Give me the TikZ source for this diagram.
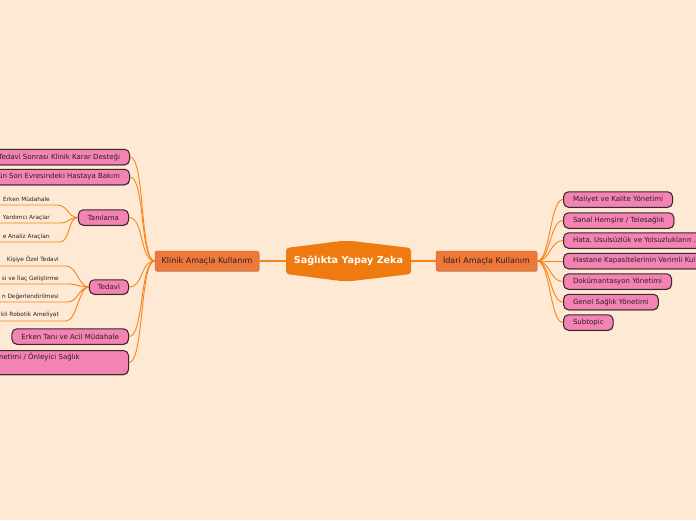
\documentclass[tikz,border=0pt]{standalone}
\usepackage{fontspec}
\setmainfont{DejaVu Sans}
\usetikzlibrary{shadows}
\definecolor{bgc}{RGB}{253,233,212}
\definecolor{connc}{RGB}{248,132,24}
\definecolor{rootc}{RGB}{238,122,16}
\definecolor{branchc}{RGB}{237,120,58}
\definecolor{branchd}{RGB}{214,100,40}
\definecolor{pinkc}{RGB}{242,131,178}
\definecolor{bordc}{RGB}{55,40,45}
\definecolor{textc}{RGB}{45,30,35}
\begin{document}
\begin{tikzpicture}[x=1pt,y=-1pt,
  conn/.style={draw=connc, line width=0.9pt},
  mainconn/.style={draw=connc, line width=1.4pt},
  leaf/.style={fill=pinkc, draw=bordc, line width=1pt, rounded corners=5pt,
    inner xsep=9.5pt, inner ysep=0pt, minimum height=15.5pt,
    font=\fontsize{7}{8.5}\selectfont, text=textc,
    drop shadow={shadow xshift=0.4pt, shadow yshift=-0.8pt, opacity=0.35, fill=black}},
  branch/.style={fill=branchc, draw=branchd, line width=0.4pt, rounded corners=2pt,
    inner sep=0pt, minimum height=20pt,
    font=\fontsize{8}{9}\selectfont, text=textc,
    drop shadow={shadow xshift=0.6pt, shadow yshift=-0.9pt, opacity=0.25, fill=black}},
  sub/.style={font=\fontsize{5.8}{6.5}\selectfont, text=textc, inner sep=0pt},
  rootshape/.style={fill=rootc, rounded corners=3pt}
]
\useasboundingbox (0,0) rectangle (696,520);
\fill[bgc] (0,0) rectangle (696,520);
\clip (0,0) rectangle (696,520);

% central topic
\fill[rootshape] (286,248) -- (341,241) -- (352,241) -- (411,248) -- (411,274)
  -- (352,281) -- (341,281) -- (286,274) -- cycle;
\node[minimum width=125pt, minimum height=40pt, inner sep=0pt, text=white,
  font=\bfseries\fontsize{9.6}{11}\selectfont] (root) at (348.5,261) {Sağlıkta Yapay Zeka};

% main branches
\node[branch, minimum width=104pt] (klinik) at (207,261) {Klinik Amaçla Kullanım};
\node[branch, minimum width=101pt] (idari) at (486.5,261) {İdari Amaçla Kullanım};

\draw[mainconn] (klinik.east) -- (root.west);
\draw[mainconn] (root.east) -- (idari.west);

% right leaves
\node[leaf, anchor=west] (r1) at (563,199.5) {Maliyet ve Kalite Yönetimi};
\node[leaf, anchor=west] (r2) at (563,220.5) {Sanal Hemşire / Telesağlık};
\node[leaf, anchor=west] (r3) at (563,240.5) {Hata, Usulsüzlük ve Yolsuzlukların ...};
\node[leaf, anchor=west] (r4) at (563,261) {Hastane Kapasitelerinin Verimli Kul};
\node[leaf, anchor=west] (r5) at (563,281.5) {Dokümantasyon Yönetimi};
\node[leaf, anchor=west] (r6) at (563,302) {Genel Sağlık Yönetimi};
\node[leaf, anchor=west] (r7) at (563,322.5) {Subtopic};

\foreach \n in {r1,r2,r3,r4,r5,r6,r7}
  \draw[conn] (idari.east) .. controls +(13,0) and +(-13,0) .. (\n.west);

% left leaves
\node[leaf, anchor=east] (l1) at (130,157) {Tedavi Sonrası Klinik Karar Desteği};
\node[leaf, anchor=east] (l2) at (130,177) {ün Son Evresindeki Hastaya Bakım};
\node[leaf, anchor=east] (tan) at (129,217.5) {Tanılama};
\node[leaf, anchor=east, inner xsep=8.5pt, minimum height=14.5pt] (ted) at (129,287) {Tedavi};
\node[leaf, anchor=east] (l5) at (129,336.5) {Erken Tanı ve Acil Müdahale};
\node[leaf, anchor=north east, align=left, text width=120pt, minimum height=24pt,
  text height=5.5pt, text depth=12.5pt, inner ysep=3pt] (l6) at (129,350)
  {netimi / Önleyici Sağlık};

\foreach \n in {l1,l2,tan,ted,l5,l6}
  \draw[conn] (\n.east) .. controls +(15,0) and +(-15,0) .. (klinik.west);

% Tanılama children
\node[sub, anchor=base east] (t1) at (50,201.5) {Erken Müdahale};
\node[sub, anchor=base east] (t2) at (50,219.5) {Yardımcı Araçlar};
\node[sub, anchor=base east] (t3) at (50,238.5) {e Analiz Araçları};
\coordinate (t1a) at (-5,205); \coordinate (t1b) at (57,205);
\coordinate (t2a) at (-5,223); \coordinate (t2b) at (60,223);
\coordinate (t3a) at (-5,242); \coordinate (t3b) at (60,242);
\draw[conn] (t1a) -- (t1b) .. controls +(11,0) and +(-10,0) .. (tan.west);
\draw[conn] (t2a) -- (t2b) .. controls +(9,0) and +(-9,0) .. (tan.west);
\draw[conn] (t3a) -- (t3b) .. controls +(10,0) and +(-10,0) .. (tan.west);

% Tedavi children
\node[sub, anchor=base east] (d1) at (59,261) {Kişiye Özel Tedavi};
\node[sub, anchor=base east] (d2) at (59,280) {si ve İlaç Geliştirme};
\node[sub, anchor=base east] (d3) at (59,298.5) {n Değerlendirilmesi};
\node[sub, anchor=base east] (d4) at (59,316.5) {kli Robotik Ameliyat};
\coordinate (d1a) at (-5,266); \coordinate (d1b) at (66,266);
\coordinate (d2a) at (-5,284); \coordinate (d2b) at (68,284);
\coordinate (d3a) at (-5,302); \coordinate (d3b) at (68,302);
\coordinate (d4a) at (-5,321); \coordinate (d4b) at (66,321);
\draw[conn] (d1a) -- (d1b) .. controls +(11,0) and +(-10,0) .. (ted.west);
\draw[conn] (d2a) -- (d2b) .. controls +(9,0) and +(-9,0) .. (ted.west);
\draw[conn] (d3a) -- (d3b) .. controls +(9,0) and +(-9,0) .. (ted.west);
\draw[conn] (d4a) -- (d4b) .. controls +(11,0) and +(-10,0) .. (ted.west);
\end{tikzpicture}
\end{document}
